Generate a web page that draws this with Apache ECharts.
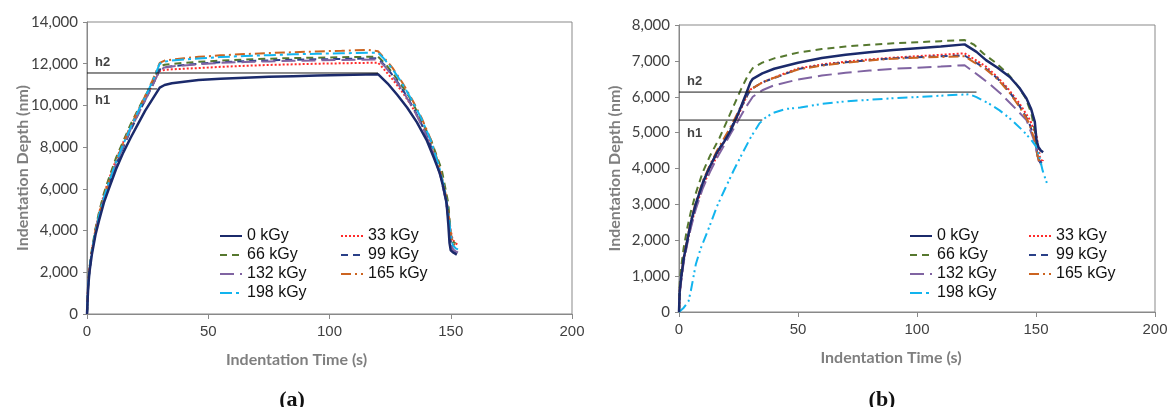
<!DOCTYPE html>
<html>
<head>
<meta charset="utf-8">
<script src="https://cdn.jsdelivr.net/npm/echarts@6/dist/echarts.min.js"></script>
<style>
  html, body { margin: 0; padding: 0; background: #fff; }
  #chart { width: 1171px; height: 407px; }
</style>
</head>
<body>
<div id="chart"></div>
<script>
// Dose labels (kGy) shared by both panels
const doseNames = ['0 kGy', '33 kGy', '66 kGy', '99 kGy', '132 kGy', '165 kGy', '198 kGy'];

// Panel (a): indentation time (s) vs depth (nm)
const depthA0 = [[0,0],[0.5,1300],[1,2000],[2,2850],[3.5,3800],[5,4500],[7,5350],[9,6000],[12,6950],[15,7750],[18,8450],[21,9100],[24,9750],[27,10300],[30,10850],[32,10980],[35,11060],[40,11140],[46,11220],[55,11280],[65,11330],[75,11370],[85,11400],[95,11430],[105,11460],[120,11500],[124,11050],[128,10500],[132,9900],[136,9200],[140,8350],[143,7500],[145.5,6750],[147.3,5900],[148.3,5300],[149,4300],[149.5,3400],[150,3050],[151,2950],[152.5,2850]];
const depthA33 = [[0,0],[0.5,1450],[1,2150],[2,3050],[3.5,4050],[5,4850],[7,5750],[9,6450],[12,7400],[15,8250],[18,9000],[21,9700],[24,10350],[27,11000],[30,11650],[32,11700],[35,11730],[40,11760],[46,11790],[55,11850],[65,11900],[75,11940],[85,11970],[95,12000],[105,12020],[120,12050],[122,11800],[126,11250],[130,10650],[134,9950],[138,9100],[142,8050],[145,7000],[147.5,5900],[149,4900],[150,4000],[150.8,3550],[152,3400],[153,3300]];
const depthA66 = [[0,0],[0.5,1500],[1,2200],[2,3100],[3.5,4100],[5,4900],[7,5800],[9,6500],[12,7500],[15,8300],[18,9100],[21,9800],[24,10450],[27,11100],[30,11860],[32,11950],[35,11990],[40,12040],[46,12090],[55,12150],[65,12200],[75,12240],[85,12270],[95,12290],[105,12310],[120,12340],[123,12000],[127,11400],[131,10750],[134,10200],[138,9250],[142,8300],[146.3,6900],[148,5900],[149,5300],[149.6,4400],[150,3700],[150.8,3450],[152,3400]];
const depthA99 = [[0,0],[0.5,1350],[1,2050],[2,2950],[3.5,3900],[5,4650],[7,5500],[9,6200],[12,7150],[15,8000],[18,8800],[21,9550],[24,10250],[27,10950],[30,11720],[32,11830],[35,11880],[40,11940],[46,12000],[55,12070],[65,12120],[75,12160],[85,12190],[95,12210],[105,12230],[120,12260],[123,11900],[127,11300],[131,10600],[135,9800],[139,8850],[143,7700],[146,6550],[148,5450],[149.3,4400],[150,3500],[150.8,3100],[152,2950],[153,2900]];
const depthA132 = [[0,0],[0.5,1350],[1,2050],[2,2950],[3.5,3950],[5,4700],[7,5550],[9,6250],[12,7200],[15,8050],[18,8850],[21,9550],[24,10250],[27,10950],[30,11700],[32,11820],[35,11870],[40,11920],[46,11980],[55,12040],[65,12080],[75,12110],[85,12140],[95,12160],[105,12180],[120,12200],[123,11850],[127,11250],[131,10550],[135,9750],[139,8800],[143,7650],[146,6500],[148,5400],[149.3,4350],[150,3450],[150.8,3100],[152,3000],[153,2950]];
const depthA165 = [[0,0],[0.5,1400],[1,2100],[2,3000],[3.5,4000],[5,4800],[7,5650],[9,6350],[12,7350],[15,8200],[18,9000],[21,9750],[24,10450],[27,11200],[30,12040],[32,12150],[35,12200],[40,12260],[46,12330],[55,12400],[65,12460],[75,12510],[85,12550],[95,12590],[105,12620],[116,12660],[120,12600],[122,12350],[126,11800],[130,11100],[134,10300],[138,9400],[142,8300],[145,7200],[147.5,6000],[149,4900],[150,3900],[150.8,3400],[152,3250],[153,3200]];
const depthA198 = [[0,0],[0.5,1400],[1,2100],[2,3000],[3.5,3950],[5,4750],[7,5600],[9,6300],[12,7300],[15,8150],[18,8950],[21,9700],[24,10400],[27,11150],[30,12000],[32,12100],[35,12150],[40,12200],[46,12250],[55,12320],[65,12370],[75,12410],[85,12450],[95,12480],[105,12500],[120,12530],[122,12300],[126,11750],[130,11050],[134,10250],[138,9350],[142,8250],[145,7150],[147.5,5950],[149,4850],[150,3850],[150.8,3300],[152,3150],[153,3100]];

// Panel (b)
const depthB0 = [[0,0],[0.3,600],[1,1000],[2,1500],[3.5,2000],[5,2500],[7,3000],[10,3600],[12.6,4000],[16,4450],[19,4750],[22,5100],[25,5550],[28,6050],[30,6400],[31,6500],[35,6650],[40,6780],[50,6950],[60,7080],[70,7170],[80,7240],[90,7300],[100,7350],[110,7400],[120,7460],[125,7250],[129,7020],[134,6800],[139,6550],[143,6250],[146,5950],[148,5650],[149.5,5300],[150.2,4800],[151,4600],[152,4500],[153,4450]];
const depthB33 = [[0,0],[0.3,500],[1,950],[2,1450],[3.5,1950],[5,2400],[7,2900],[10,3500],[13,3950],[16,4350],[19,4750],[22,5100],[25,5500],[28,5950],[30,6200],[35,6400],[40,6540],[50,6790],[60,6900],[70,6980],[80,7040],[90,7090],[100,7130],[110,7170],[120,7210],[124,7050],[129,6840],[133,6600],[137.6,6280],[143,5820],[147.5,5350],[150.3,4880],[151.7,4320],[152.5,4180],[153,4240]];
const depthB66 = [[0,0],[0.3,800],[1,1300],[2,1800],[3.5,2350],[5,2800],[7,3300],[10,3900],[13,4350],[17,4850],[20,5300],[23,5750],[26,6200],[29,6600],[31,6800],[35,6950],[40,7070],[50,7230],[60,7330],[70,7400],[80,7450],[90,7490],[100,7520],[110,7550],[120,7580],[124,7450],[128,7200],[133,6950],[138,6650],[142,6330],[145.5,5980],[148,5550],[149.5,5050],[150.4,4430],[151,4240],[151.5,4200]];
const depthB99 = [[0,0],[0.3,600],[1,1000],[2,1500],[3.5,2000],[5,2500],[7,3000],[10,3600],[13,4050],[16,4450],[19,4800],[22,5150],[25,5550],[28,5950],[30,6200],[35,6400],[40,6520],[50,6770],[60,6880],[70,6960],[80,7020],[90,7070],[100,7100],[110,7130],[120,7150],[124,6980],[129,6780],[134,6500],[139,6120],[143,5750],[147,5300],[149.5,4800],[150.8,4350],[151.8,4150],[152.5,4200]];
const depthB132 = [[0,0],[0.3,500],[1,900],[2,1400],[3.5,1900],[5,2350],[7,2850],[10,3450],[13,3900],[16,4300],[19,4650],[22,5000],[25,5350],[28,5700],[31,6000],[35,6180],[40,6320],[50,6480],[60,6590],[70,6670],[80,6730],[90,6780],[100,6810],[110,6840],[120,6880],[126.5,6560],[131,6330],[135,6100],[142,5630],[146,5350],[149.6,4710],[150.4,4430],[151,4240],[151.5,4150]];
const depthB165 = [[0,0],[0.3,650],[1,1050],[2,1550],[3.5,2050],[5,2550],[7,3050],[10,3650],[13,4100],[16,4500],[19,4850],[22,5200],[25,5600],[28,6000],[30,6200],[35,6400],[40,6530],[50,6760],[60,6870],[70,6950],[80,7010],[90,7060],[100,7090],[110,7110],[120,7130],[124,6960],[129,6760],[134,6480],[139,6100],[143,5720],[147,5280],[149.5,4780],[150.8,4320],[151.8,4100],[152.5,4150]];
const depthB198 = [[0,0],[2,120],[4,300],[5,600],[6,950],[7.1,1340],[9,1750],[12.6,2350],[16,2950],[19.6,3470],[23,3950],[26.6,4420],[30,4850],[33.7,5250],[36,5400],[39.5,5550],[45,5660],[51,5700],[60,5800],[70,5870],[79,5910],[90,5960],[100,5990],[110,6030],[122,6070],[125,5990],[130,5820],[134.7,5620],[140,5340],[144.4,5060],[148,4800],[150.3,4590],[151.5,4300],[152.8,3940],[154,3700],[155,3520]];

// Reference depths h1 / h2 with the time span of each guide line
const guideA = { h1: 10790, h1End: 29, h2: 11555, h2End: 120 };
const guideB = { h1: 5350, h1End: 35, h2: 6130, h2End: 125 };

// Tick settings
const timeTicks = { min: 0, max: 200, interval: 50 };
const depthTicksA = { min: 0, max: 14000, interval: 2000 };
const depthTicksB = { min: 0, max: 8000, interval: 1000 };

// Series styles
const colors = ['#1b2a6b', '#ff2b2b', '#56782f', '#2a4088', '#8064a2', '#cc6420', '#12b4ee'];
const dashes = ['solid', [2, 2], [7, 5], [7, 5], [14, 6], [10, 4, 2, 4], [12, 4, 3, 4]];
const dashesB = ['solid', [2, 2], [7, 5], [7, 5], [14, 6], [10, 4, 2, 4], [10, 4, 2, 3, 2, 4]];
const widths = [2.5, 2, 2, 2, 2, 2, 2];

const panelA = [depthA0, depthA33, depthA66, depthA99, depthA132, depthA165, depthA198];
const panelB = [depthB0, depthB33, depthB66, depthB99, depthB132, depthB165, depthB198];

const axisGray = '#898989';
const tickFont = { fontFamily: 'Lato', fontSize: 15, color: '#404040' };
const timeFont = { fontFamily: 'Liberation Sans', fontSize: 15, color: '#404040' };
const titleFont = { fontFamily: 'Lato', fontWeight: 'bold', fontSize: 16, color: '#7f7f7f' };

function curveSeries(data, i, gridIdx, dashSet) {
  return {
    name: doseNames[i],
    type: 'line',
    xAxisIndex: gridIdx,
    yAxisIndex: gridIdx,
    data: data,
    symbol: 'none',
    smooth: false,
    silent: true,
    z: 3 + (i === 0 ? 1 : 0),
    lineStyle: { color: colors[i], width: widths[i], type: dashSet[i] },
    itemStyle: { color: colors[i] }
  };
}

function guideSeries(level, end, gridIdx) {
  return {
    type: 'line', xAxisIndex: gridIdx, yAxisIndex: gridIdx, symbol: 'none', silent: true, z: 5,
    data: [[0, level], [end, level]],
    lineStyle: { color: '#1a1a1a', width: 1 }
  };
}

function guideLabel(level, text, pos, gridIdx) {
  return {
    type: 'scatter', xAxisIndex: gridIdx, yAxisIndex: gridIdx, symbolSize: 0, silent: true, z: 6,
    data: [[0, level]],
    label: {
      show: true, formatter: text, position: pos,
      fontFamily: 'Liberation Sans', fontWeight: 'bold', fontSize: 13, color: '#111'
    }
  };
}

function xAxisFor(gridIdx, pad) {
  return {
    gridIndex: gridIdx, type: 'value', min: timeTicks.min, max: timeTicks.max, interval: timeTicks.interval,
    name: 'Indentation Time (s)', nameLocation: 'middle', nameGap: 38, nameMoveOverlap: false,
    nameTextStyle: Object.assign({ padding: [0, pad, 0, 0] }, titleFont),
    axisLine: { show: true, lineStyle: { color: axisGray, width: 1 } },
    axisTick: { show: true, length: 5, lineStyle: { color: axisGray } },
    axisLabel: Object.assign({ margin: 10 }, timeFont),
    splitLine: { show: false }
  };
}

function yAxisFor(gridIdx, ticks, gap) {
  return {
    gridIndex: gridIdx, type: 'value', min: ticks.min, max: ticks.max, interval: ticks.interval,
    name: 'Indentation Depth (nm)', nameLocation: 'middle', nameRotate: 90, nameGap: gap, nameMoveOverlap: false,
    nameTextStyle: titleFont,
    axisLine: { show: true, lineStyle: { color: axisGray, width: 1 } },
    axisTick: { show: true, length: 4, lineStyle: { color: axisGray } },
    axisLabel: Object.assign({ margin: 9, formatter: v => v.toLocaleString('en-US') }, tickFont),
    splitLine: { show: false }
  };
}

function legendCol(names, left) {
  return {
    orient: 'vertical', left: left, top: 228, padding: 0,
    itemWidth: 22, itemHeight: 16, itemGap: 3, selectedMode: false,
    // line-only samples, no marker in the middle
    itemStyle: { opacity: 0, color: 'transparent', borderWidth: 0 },
    data: names,
    textStyle: { fontFamily: 'Liberation Sans', fontSize: 16, lineHeight: 16, color: '#111' }
  };
}

const col1 = [doseNames[0], doseNames[2], doseNames[4], doseNames[6]];
const col2 = [doseNames[1], doseNames[3], doseNames[5]];

const series = [];
panelA.forEach((d, i) => series.push(curveSeries(d, i, 0, dashes)));
panelB.forEach((d, i) => series.push(curveSeries(d, i, 1, dashesB)));
series.push(guideSeries(guideA.h2, guideA.h2End, 0));
series.push(guideSeries(guideA.h1, guideA.h1End, 0));
series.push(guideSeries(guideB.h2, guideB.h2End, 1));
series.push(guideSeries(guideB.h1, guideB.h1End, 1));
series.push(guideLabel(guideA.h2, 'h2', [8, -17], 0));
series.push(guideLabel(guideA.h1, 'h1', [8, 5], 0));
series.push(guideLabel(guideB.h2, 'h2', [8, -17], 1));
series.push(guideLabel(guideB.h1, 'h1', [8, 7], 1));

const chart = echarts.init(document.getElementById('chart'), null, { renderer: 'canvas' });
chart.setOption({
  animation: false,
  backgroundColor: '#ffffff',
  title: [
    { text: '{p|(}{b|a}{p|)}', left: 287, top: 384, textAlign: 'center',
      textStyle: { rich: {
        p: { fontFamily: 'Liberation Serif', fontSize: 22, color: '#111' },
        b: { fontFamily: 'Liberation Serif', fontSize: 22, fontWeight: 'bold', color: '#111' } } } },
    { text: '{p|(}{b|b}{p|)}', left: 877, top: 384, textAlign: 'center',
      textStyle: { rich: {
        p: { fontFamily: 'Liberation Serif', fontSize: 22, color: '#111' },
        b: { fontFamily: 'Liberation Serif', fontSize: 22, fontWeight: 'bold', color: '#111' } } } }
  ],
  grid: [
    { left: 87, top: 22, width: 485, height: 292, show: true, borderColor: axisGray, borderWidth: 1, backgroundColor: 'transparent' },
    { left: 679, top: 25, width: 476, height: 287, show: true, borderColor: axisGray, borderWidth: 1, backgroundColor: 'transparent' }
  ],
  xAxis: [xAxisFor(0, 66), xAxisFor(1, 52)],
  yAxis: [yAxisFor(0, depthTicksA, 56), yAxisFor(1, depthTicksB, 56)],
  legend: [legendCol(col1, 219), legendCol(col2, 340), legendCol(col1, 909), legendCol(col2, 1028)],
  series: series
});
</script>
</body>
</html>
